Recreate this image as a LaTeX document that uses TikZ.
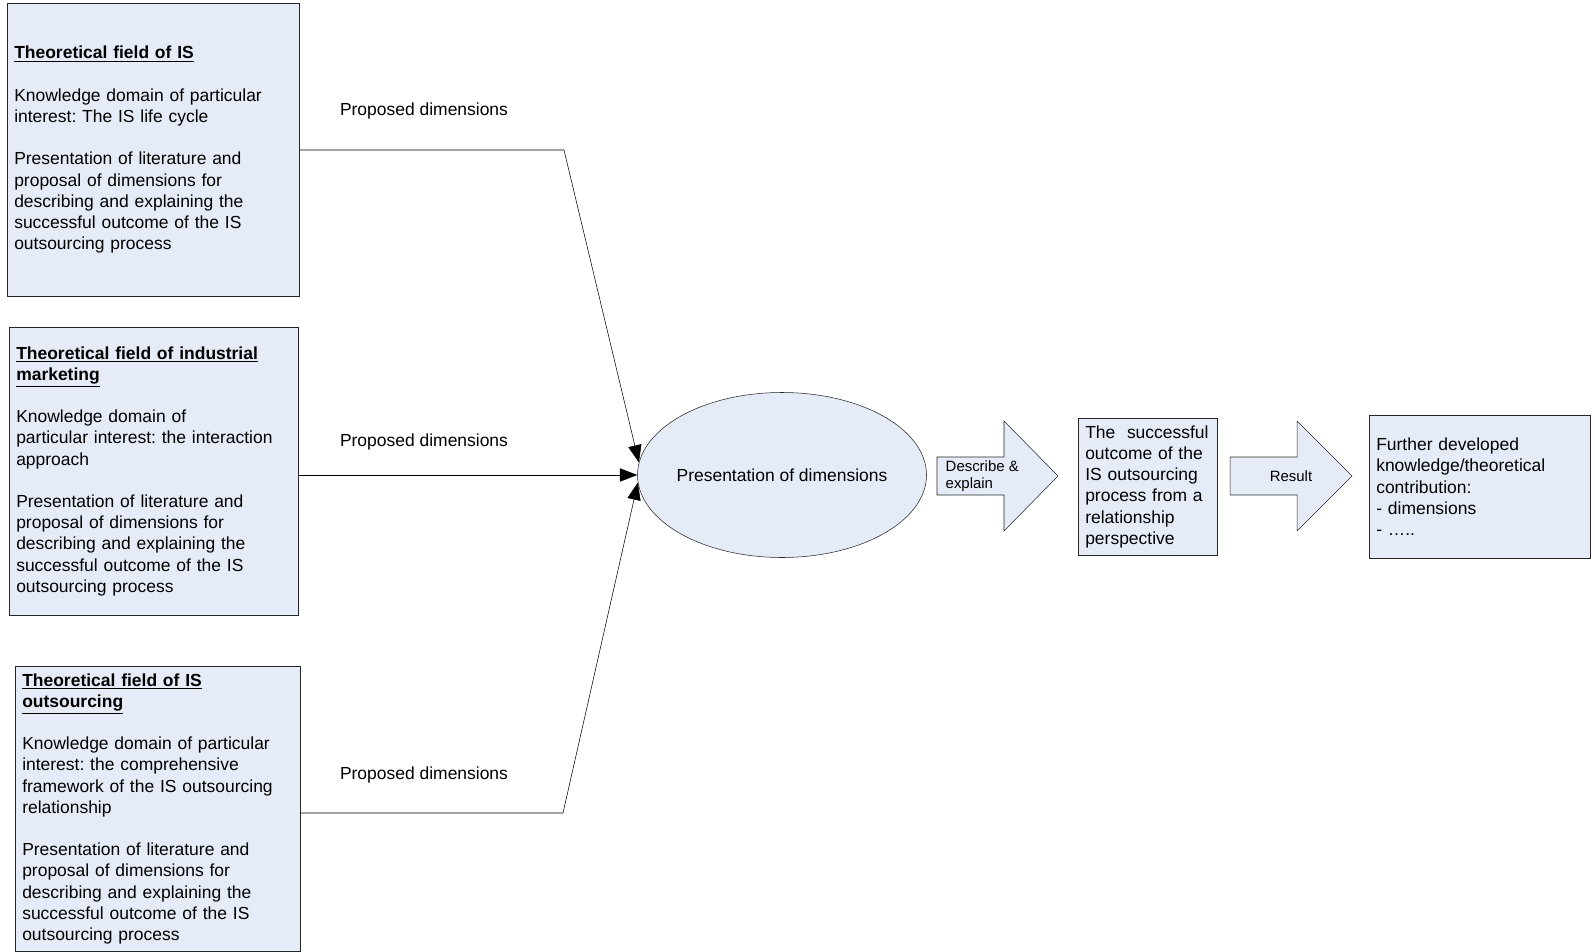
\documentclass[tikz,border=0pt]{standalone}
\usepackage{fontspec}
\setmainfont{Liberation Sans}
\usetikzlibrary{positioning,arrows.meta,shapes.geometric}
\definecolor{boxfill}{RGB}{230,236,247}
\newlength\px
\setlength\px{0.75pt}
\newcommand\hd[1]{\underline{\textbf{#1}}}
\frenchspacing

\begin{document}
\begin{tikzpicture}[
x = 0.75pt, y = -0.75pt,
every node/.style = {
	font = \fontsize{13.1}{15.9}\selectfont
},
field/.style = {
	draw = black!85,
	fill = boxfill,
	anchor = north west,
	align = left,
	inner xsep = 7\px,
	inner ysep = 0pt
},
small/.style = {
	font = \fontsize{11.2}{12.9}\selectfont
},
link/.style = {
	draw = black,
	-{Triangle[length=13pt, width=10pt]}
},
blockarrow/.style = {
	draw = black!85,
	fill = boxfill
}
]
\useasboundingbox (0,0) rectangle (1595,952);

\node[field, text width=278\px, minimum height=293\px] (fieldis) at (7,3)
	{\hd{Theoretical field of IS}\\[\baselineskip]
	Knowledge domain of particular\\interest: The IS life cycle\\[\baselineskip]
	Presentation of literature and\\proposal of dimensions for\\describing and explaining the\\successful outcome of the IS\\outsourcing process};
\node[field, text width=275\px, minimum height=288\px] (fieldim) at (9,327)
	{\hd{Theoretical field of industrial}\\\hd{marketing}\\[\baselineskip]
	Knowledge domain of\\particular interest: the interaction\\approach\\[\baselineskip]
	Presentation of literature and\\proposal of dimensions for\\describing and explaining the\\successful outcome of the IS\\outsourcing process};
\node[field, text width=271\px, minimum height=285\px] (fieldout) at (15,666)
	{\hd{Theoretical field of IS}\\\hd{outsourcing}\\[\baselineskip]
	Knowledge domain of particular\\interest: the comprehensive\\framework of the IS outsourcing\\relationship\\[\baselineskip]
	Presentation of literature and\\proposal of dimensions for\\describing and explaining the\\successful outcome of the IS\\outsourcing process};

\node[ellipse, draw=black!85, fill=boxfill, minimum width=289\px, minimum height=165\px, inner xsep=-8\px, inner ysep=0pt] (pres) at (782,475) {Presentation of dimensions};

\node[field, text width=125\px, minimum height=137\px] (outcome) at (1078,418)
	{The\ \ successful\\outcome of the\\IS outsourcing\\process from a\\relationship\\perspective};
\node[field, text width=207\px, minimum height=143\px] (contrib) at (1369,415)
	{Further developed\\knowledge/theoretical\\contribution:\\- dimensions\\- \dots..};

% labels on the connectors
\node (pdis) at (424,111) {Proposed dimensions};
\node (pdim) at (424,442) {Proposed dimensions};
\node (pdout) at (424,775) {Proposed dimensions};

% connectors into the ellipse
\coordinate (kinkis) at (564,150);
\coordinate (kinkout) at (563,813);
\draw[link] (fieldis.east |- kinkis) -- (kinkis) -- (pres.175);
\draw[link] (fieldim.east |- pres.west) -- (pres.west);
\draw[link] (fieldout.east |- kinkout) -- (kinkout) -- (pres.183);

% block arrows
\filldraw[blockarrow] (937,457) -- (1004,457) -- (1004,421) -- (1058,476) -- (1004,531) -- (1004,495) -- (937,495) -- cycle;
\filldraw[blockarrow] (1230,457) -- (1297,457) -- (1297,421) -- (1352,476) -- (1297,531) -- (1297,495) -- (1230,495) -- cycle;
\node[small, anchor=west, align=left] (describe) at (941,476) {Describe \&\\explain};
\node[small] (result) at (1291,476) {Result};
\end{tikzpicture}
\end{document}
